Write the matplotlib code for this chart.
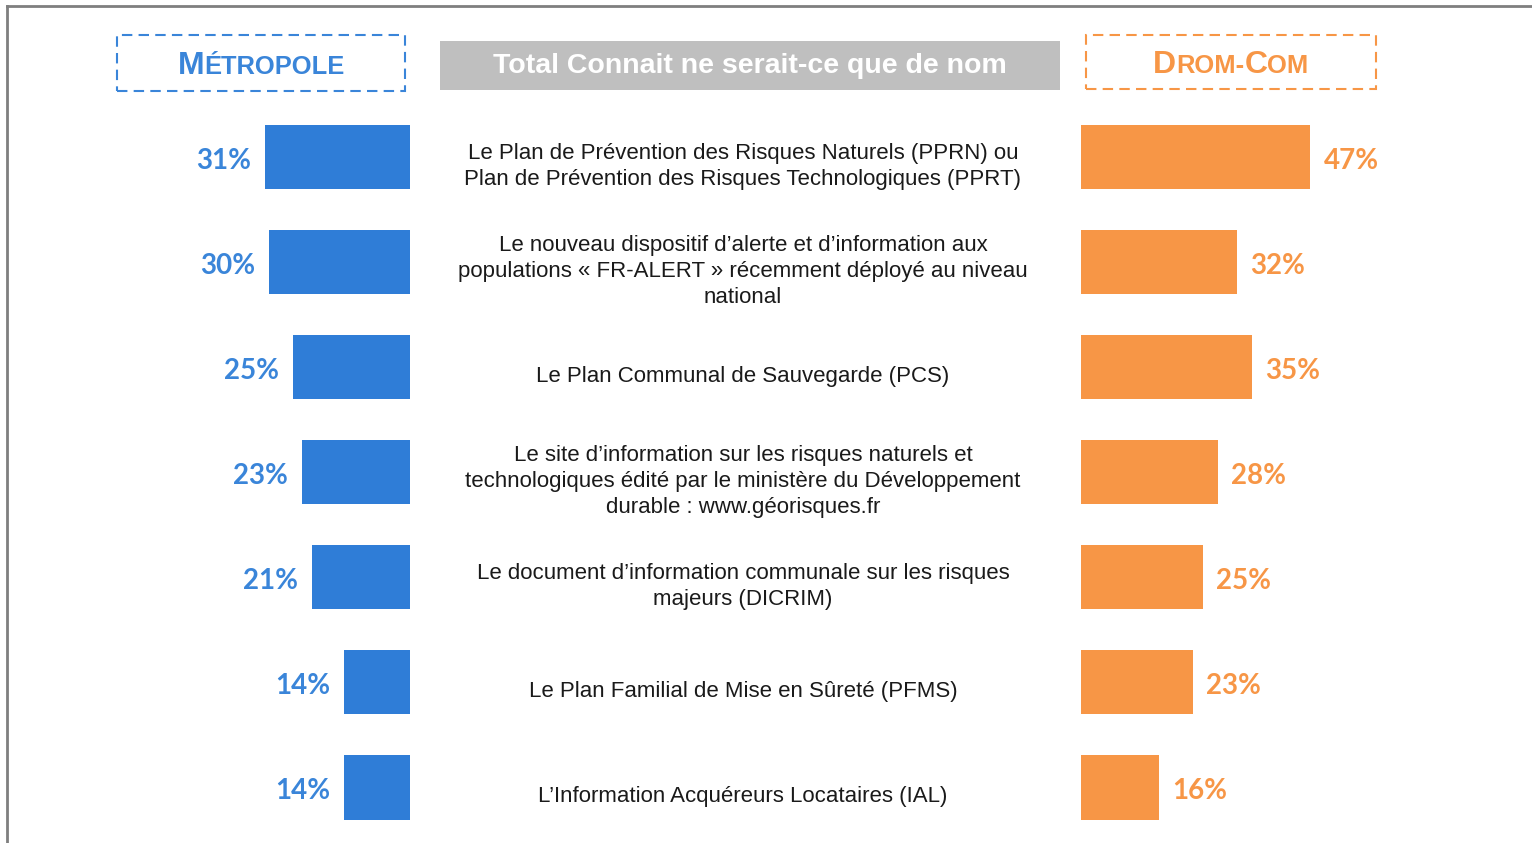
import matplotlib.pyplot as plt
from matplotlib.patches import Rectangle
from matplotlib.lines import Line2D
from matplotlib.transforms import blended_transform_factory

# données
items = [
    "Le Plan de Prévention des Risques Naturels (PPRN) ou\nPlan de Prévention des Risques Technologiques (PPRT)",
    "Le nouveau dispositif d’alerte et d’information aux\npopulations « FR-ALERT » récemment déployé au niveau\nnational",
    "Le Plan Communal de Sauvegarde (PCS)",
    "Le site d’information sur les risques naturels et\ntechnologiques édité par le ministère du Développement\ndurable : www.géorisques.fr",
    "Le document d’information communale sur les risques\nmajeurs (DICRIM)",
    "Le Plan Familial de Mise en Sûreté (PFMS)",
    "L’Information Acquéreurs Locataires (IAL)",
]
metropole = [31, 30, 25, 23, 21, 14, 14]
dromcom = [47, 32, 35, 28, 25, 23, 16]
header_mid = "Total Connait ne serait-ce que de nom"

blue = '#2f7dd7'
blue_txt = '#3a85d9'
orange = '#f79646'

W, H = 1532, 843
fig = plt.figure(figsize=(W / 100, H / 100), dpi=100)


def fx(px):
    return px / W


def fy(py):
    return 1 - py / H


# cadre
fig.add_artist(Line2D([fx(7), fx(7)], [0, fy(6)], color='#7f7f7f', lw=2, transform=fig.transFigure))
fig.add_artist(Line2D([fx(7), 1], [fy(6), fy(6)], color='#7f7f7f', lw=2, transform=fig.transFigure))

# axes des barres
top, bottom = 104.5, 840
axL = fig.add_axes([fx(410 - 40 * 4.69), fy(bottom), 40 * 4.69 / W, (bottom - top) / H])
axR = fig.add_axes([fx(1081), fy(bottom), 60 * 4.88 / W, (bottom - top) / H])
y = list(range(len(items)))

axL.barh(y, metropole, height=0.61, color=blue)
axL.set_xlim(40, 0)
axR.barh(y, dromcom, height=0.61, color=orange)
axR.set_xlim(0, 60)
for ax in (axL, axR):
    ax.set_ylim(len(items) - 0.5, -0.5)
    ax.axis('off')

for i, v in enumerate(metropole):
    axL.annotate(f'{v}%', xy=(v, i), xytext=(-10, -2.5), textcoords='offset points',
                 ha='right', va='center', fontsize=20, fontweight='bold',
                 color=blue_txt, family='Lato')
for i, v in enumerate(dromcom):
    axR.annotate(f'{v}%', xy=(v, i), xytext=(9.5, -2.5), textcoords='offset points',
                 ha='left', va='center', fontsize=20, fontweight='bold',
                 color=orange, family='Lato')

# libellés du milieu
tr = blended_transform_factory(fig.transFigure, axL.transData)
for i, s in enumerate(items):
    fig.text(fx(743), i + 0.09, s, transform=tr, ha='center', va='center',
             fontsize=16, family='Liberation Sans', color='#1a1a1a', linespacing=1.33)

# en-têtes
fig.add_artist(Rectangle((fx(440), fy(90)), fx(1060) - fx(440), (90 - 41) / H,
                         facecolor='#bfbfbf', edgecolor='none', transform=fig.transFigure))
fig.text(fx(750), fy(66), header_mid, ha='center', va='center', fontsize=20.5,
         fontweight='bold', color='white', family='Liberation Sans')

fig.add_artist(Rectangle((fx(117), fy(91)), fx(405) - fx(117), (91 - 35) / H,
                         facecolor='none', edgecolor=blue_txt, lw=1.5, ls=(0, (5, 3)),
                         transform=fig.transFigure))
fig.add_artist(Rectangle((fx(1086), fy(89)), fx(1376) - fx(1086), (89 - 35) / H,
                         facecolor='none', edgecolor=orange, lw=1.5, ls=(0, (5, 3)),
                         transform=fig.transFigure))

renderer = fig.canvas.get_renderer()


def small_caps(parts, cx, base, color):
    texts = []
    for s, big in parts:
        t = fig.text(0, fy(base), s, fontsize=23 if big else 18.4, fontweight='bold',
                     color=color, family='Liberation Sans', ha='left', va='baseline')
        texts.append(t)
    widths = [t.get_window_extent(renderer).width for t in texts]
    x = cx - sum(widths) / 2
    for t, w in zip(texts, widths):
        t.set_x(fx(x))
        x += w


small_caps([('M', True), ('ÉTROPOLE', False)], 261, 74, blue_txt)
small_caps([('D', True), ('ROM-', False), ('C', True), ('OM', False)], 1231, 73, orange)

fig.savefig('out.png', dpi=100)
